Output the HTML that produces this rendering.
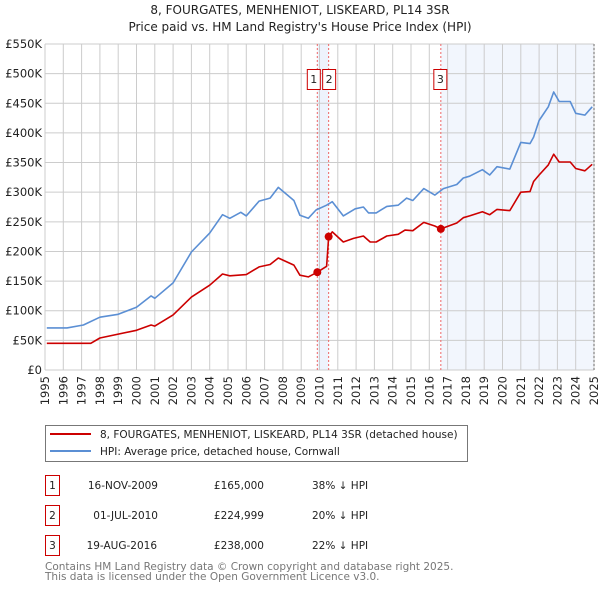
<!DOCTYPE html>
<html><head><meta charset="utf-8"><style>
body{margin:0;background:#fff;font-family:"Liberation Sans","DejaVu Sans",sans-serif;}
svg text{font-family:"DejaVu Sans","Liberation Sans",sans-serif;}
</style></head><body>
<svg id="chart" width="600" height="590" viewBox="0 0 600 590" xmlns="http://www.w3.org/2000/svg">
<text x="300" y="14" font-size="12" text-anchor="middle" fill="#222">8, FOURGATES, MENHENIOT, LISKEARD, PL14 3SR</text>
<text x="300" y="31" font-size="12" text-anchor="middle" fill="#222">Price paid vs. HM Land Registry's House Price Index (HPI)</text>
<g id="plot"></g>
<g>
<rect x="45.5" y="425.5" width="422" height="36" fill="#fff" stroke="#777"/>
<line x1="50" y1="434" x2="91" y2="434" stroke="#cc0000" stroke-width="2"/>
<text x="100" y="438" font-size="10.5" fill="#222">8, FOURGATES, MENHENIOT, LISKEARD, PL14 3SR (detached house)</text>
<line x1="50" y1="451" x2="91" y2="451" stroke="#5b8fd4" stroke-width="2"/>
<text x="100" y="455" font-size="10.5" fill="#222">HPI: Average price, detached house, Cornwall</text>
</g>
<g font-size="10.5" fill="#222">
<rect x="45.5" y="475.5" width="14" height="20" fill="#fff" stroke="#cc0000"/><text x="52.5" y="489" text-anchor="middle">1</text>
<text x="158" y="489" text-anchor="end">16-NOV-2009</text><text x="264" y="489" text-anchor="end">£165,000</text><text x="312" y="489">38% ↓ HPI</text>
<rect x="45.5" y="505.5" width="14" height="20" fill="#fff" stroke="#cc0000"/><text x="52.5" y="519" text-anchor="middle">2</text>
<text x="158" y="519" text-anchor="end">01-JUL-2010</text><text x="264" y="519" text-anchor="end">£224,999</text><text x="312" y="519">20% ↓ HPI</text>
<rect x="45.5" y="535.5" width="14" height="20" fill="#fff" stroke="#cc0000"/><text x="52.5" y="549" text-anchor="middle">3</text>
<text x="157" y="549" text-anchor="end">19-AUG-2016</text><text x="264" y="549" text-anchor="end">£238,000</text><text x="312" y="549">22% ↓ HPI</text>
</g>
<text x="45" y="570" font-size="10.5" fill="#777">Contains HM Land Registry data © Crown copyright and database right 2025.</text>
<text x="45" y="580" font-size="10.5" fill="#777">This data is licensed under the Open Government Licence v3.0.</text>
</svg>
<script>
const hpiYears=[1995.1,1996.2,1997.1,1998.0,1999.0,2000.0,2000.8,2001.0,2002.0,2003.0,2004.0,2004.7,2005.1,2005.7,2006.0,2006.7,2007.3,2007.75,2008.6,2008.93,2009.39,2009.81,2010.39,2010.7,2011.3,2011.95,2012.4,2012.68,2013.1,2013.68,2014.3,2014.76,2015.1,2015.7,2016.3,2016.77,2017.5,2017.86,2018.2,2018.9,2019.3,2019.7,2020.4,2021.0,2021.5,2021.7,2022.0,2022.5,2022.8,2023.1,2023.7,2024.0,2024.5,2024.9];
const hpiValues=[71,71,76,89,94,106,125,121,147,199,231,262,256,266,260,285,290,308,286,261,256,270,278,284,260,272,275,265,265,276,278,290,286,306,295,306,313,324,327,338,329,343,339,384,382,393,421,444,469,453,453,433,430,444];
const propYears=[1995.1,1997.5,1998.0,2000.0,2000.8,2001.0,2002.0,2003.0,2004.0,2004.7,2005.1,2006.0,2006.7,2007.3,2007.75,2008.6,2008.93,2009.39,2009.88,2010.39,2010.5,2010.7,2011.3,2011.86,2012.4,2012.77,2013.1,2013.68,2014.3,2014.67,2015.1,2015.7,2016.3,2016.63,2017.5,2017.86,2018.2,2018.9,2019.3,2019.7,2020.4,2021.0,2021.5,2021.7,2022.0,2022.5,2022.8,2023.1,2023.7,2024.0,2024.5,2024.9];
const propValues=[45,45,54,67,76,74,93,123,143,162,159,161,174,178,189,177,160,157,165,175,225,233,216,222,226,216,216,226,229,236,235,249,243,238,248,257,260,267,262,271,269,300,301,318,329,346,364,351,351,340,336,347];
const saleYears=[2009.88,2010.5,2016.63];
const saleValues=[165,224.999,238];
const saleLabels=["1","2","3"];
const yTicks=[0,50,100,150,200,250,300,350,400,450,500,550];
const yTickLabels=["£0","£50K","£100K","£150K","£200K","£250K","£300K","£350K","£400K","£450K","£500K","£550K"];
const xTicks=[1995,1996,1997,1998,1999,2000,2001,2002,2003,2004,2005,2006,2007,2008,2009,2010,2011,2012,2013,2014,2015,2016,2017,2018,2019,2020,2021,2022,2023,2024,2025];

const L=45,R=594,T=44,B=370;
const xs=y=>L+(y-1995)/30*(R-L);
const ys=v=>B-v/550*(B-T);
const NS="http://www.w3.org/2000/svg";
const g=document.getElementById('plot');
function mk(tag,attrs,parent){const e=document.createElementNS(NS,tag);for(const k in attrs)e.setAttribute(k,attrs[k]);(parent||g).appendChild(e);return e;}
// shading
let s1=mk('rect',{x:xs(saleYears[0]),y:T,width:xs(saleYears[1])-xs(saleYears[0]),height:B-T,fill:'#eef3fc'});


let s2=mk('rect',{x:xs(saleYears[2]),y:T,width:R-xs(saleYears[2]),height:B-T,fill:'#f2f6fd'});


// grid
yTicks.forEach((v,i)=>{
 const ln=mk('line',{x1:L,x2:R,y1:ys(v),y2:ys(v),stroke:'#cccccc','stroke-width':1});
 
 
 const t=mk('text',{x:L-3,y:ys(v)+4,'font-size':11.5,'text-anchor':'end',fill:'#222'});
 
 
 t.textContent=yTickLabels[i];
});
xTicks.forEach(y=>{
 const ln=mk('line',{x1:xs(y),x2:xs(y),y1:T,y2:B,stroke:'#cccccc','stroke-width':1});
 
 
 const t=mk('text',{x:0,y:0,'font-size':11.5,'text-anchor':'end',fill:'#222',transform:`translate(${xs(y)+4},${B+6}) rotate(-90)`});
 
 
 t.textContent=y;
});
const edge=mk('line',{x1:R,x2:R,y1:T,y2:B,stroke:'#999','stroke-width':1.5,'stroke-dasharray':'2,2'});


// sale vlines
saleYears.forEach((y,i)=>{
 const ln=mk('line',{x1:xs(y),x2:xs(y),y1:T,y2:B,stroke:'#ee6666','stroke-width':1,'stroke-dasharray':'2,2'});
 
 
});
function path(xa,va,color,name){
 const d=xa.map((y,i)=>(i?'L':'M')+xs(y).toFixed(1)+','+ys(va[i]).toFixed(1)).join('');
 const p=mk('path',{d,fill:'none',stroke:color,'stroke-width':1.6,'stroke-linejoin':'round'});
 
 
}
path(hpiYears,hpiValues,'#5b8fd4','hpi-line');
path(propYears,propValues,'#cc0000','property-line');
saleYears.forEach((y,i)=>{
 const c=mk('circle',{cx:xs(y),cy:ys(saleValues[i]),r:4,fill:'#cc0000'});
 
 
 const bx=i===1?xs(y)-6:(i===0?xs(y)-10:xs(y)-7);
 const r=mk('rect',{x:bx,y:69.5,width:13,height:20,fill:'#fff',stroke:'#cc0000'});
 
 
 const t=mk('text',{x:bx+6.5,y:83,'font-size':11,'text-anchor':'middle',fill:'#222'});
 
 
 t.textContent=saleLabels[i];
});
</script>
</body></html>
